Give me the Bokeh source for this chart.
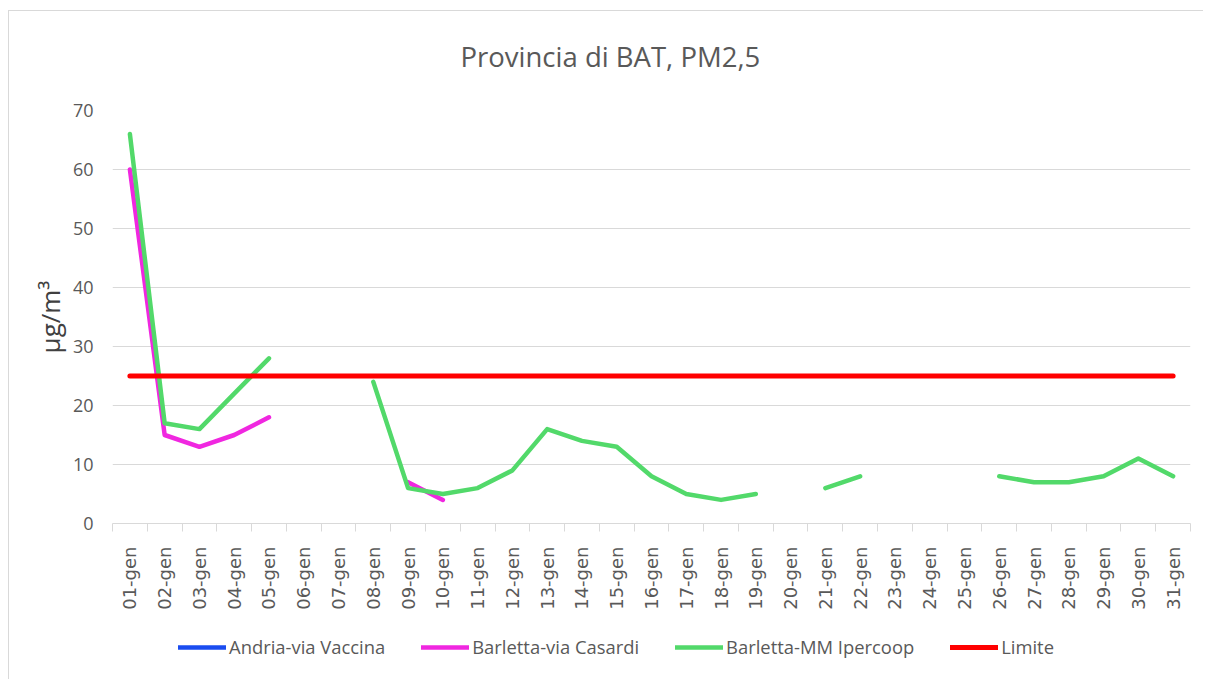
import numpy as np
from bokeh.plotting import figure
from bokeh.layouts import column
from bokeh.models import Range1d, FixedTicker, Legend, LegendItem
from bokeh.embed import file_html
from bokeh.resources import INLINE

nan = np.nan

days = [f"{d:02d}-gen" for d in range(1, 32)]

andria_via_vaccina = [nan] * 31

barletta_via_casardi = [60, 15, 13, 15, 18, nan, nan, nan, 7, 4,
                        nan, nan, nan, nan, nan, nan, nan, nan, nan, nan,
                        nan, nan, nan, nan, nan, nan, nan, nan, nan, nan, nan]

barletta_mm_ipercoop = [66, 17, 16, 22, 28, nan, nan, 24, 6, 5,
                        6, 9, 16, 14, 13, 8, 5, 4, 5, nan,
                        6, 8, nan, nan, nan, 8, 7, 7, 8, 11, 8]

limite = [25] * 31

series_names = ["Andria-via Vaccina", "Barletta-via Casardi", "Barletta-MM Ipercoop", "Limite"]
series_colors = ["#1a4cf0", "#f027e0", "#52d96a", "#ff0000"]
series_widths = [4.5, 4.5, 4.5, 5]
series_values = [andria_via_vaccina, barletta_via_casardi, barletta_mm_ipercoop, limite]

chart_title = "Provincia di BAT, PM2,5"

x = list(range(1, len(days) + 1))

W = 1194


def strip(height):
    f = figure(width=W, height=height, output_backend="svg", toolbar_location=None,
               x_axis_location=None, y_axis_location=None, min_border=0,
               x_range=Range1d(100, 101), y_range=Range1d(-100, -99))
    f.outline_line_color = None
    f.xgrid.grid_line_color = None
    f.ygrid.grid_line_color = None
    return f


# title strip
top = strip(87)
top.title.text = chart_title
top.title.align = "left"
top.title.offset = 348
top.title.text_font = "Open Sans"
top.title.text_font_size = "27.5px"
top.title.text_font_style = "normal"
top.title.text_color = "#595959"
top.title.standoff = 48

# main chart
p = figure(width=W, height=523, output_backend="svg", toolbar_location=None,
           x_range=Range1d(0.5, len(days) + 0.5), y_range=Range1d(0, 70),
           min_border_left=103, min_border_right=13, min_border_top=12, min_border_bottom=98)

p.outline_line_color = None
p.background_fill_color = "white"
p.border_fill_color = "white"

# y axis
p.yaxis.ticker = FixedTicker(ticks=list(range(0, 71, 10)))
p.yaxis.axis_line_color = None
p.yaxis.major_tick_line_color = None
p.yaxis.minor_tick_line_color = None
p.yaxis.major_label_text_font = "Open Sans"
p.yaxis.major_label_text_font_size = "18px"
p.yaxis.major_label_text_color = "#595959"
p.yaxis.major_label_standoff = 13
p.yaxis.axis_label = "µg/m³"
p.yaxis.axis_label_text_font = "Open Sans"
p.yaxis.axis_label_text_font_size = "26px"
p.yaxis.axis_label_text_font_style = "normal"
p.yaxis.axis_label_text_color = "#404040"
p.yaxis.axis_label_standoff = 2

# x axis
p.xaxis.ticker = FixedTicker(ticks=x, minor_ticks=[v - 0.5 for v in x] + [len(x) + 0.5])
p.xaxis.major_label_overrides = {v: d for v, d in zip(x, days)}
p.xaxis.major_label_orientation = np.pi / 2
p.xaxis.axis_line_color = "#d9d9d9"
p.xaxis.major_tick_line_color = None
p.xaxis.major_tick_out = 0
p.xaxis.major_tick_in = 0
p.xaxis.minor_tick_line_color = "#d9d9d9"
p.xaxis.minor_tick_out = 8
p.xaxis.minor_tick_in = 0
p.xaxis.major_label_text_font = "DejaVu Sans"
p.xaxis.major_label_text_font_size = "18px"
p.xaxis.major_label_text_color = "#595959"
p.xaxis.major_label_standoff = 15

p.xgrid.grid_line_color = None
p.ygrid.grid_line_color = "#d9d9d9"
p.ygrid.grid_line_width = 1

for vals, color, w in zip(series_values, series_colors, series_widths):
    p.line(x, vals, line_color=color, line_width=w, line_join="round", line_cap="round")

# legend strip below the chart (same series, ranges chosen so only the legend shows)
lg = strip(58)
lg_renderers = [lg.line(x, vals, line_color=c, line_width=w, line_cap="round")
                for vals, c, w in zip(series_values, series_colors, series_widths)]

legend = Legend(items=[LegendItem(label=n, renderers=[r]) for n, r in zip(series_names, lg_renderers)],
                orientation="horizontal", location=(66, 20))
legend.label_text_font = "Open Sans"
legend.label_text_font_size = "18.4px"
legend.label_text_color = "#595959"
legend.glyph_width = 48
legend.glyph_height = 20
legend.label_standoff = 3
legend.spacing = 36
legend.padding = 0
legend.margin = 0
legend.border_line_color = None
legend.background_fill_alpha = 0
lg.add_layout(legend, "center")

layout = column(top, p, lg, spacing=0,
                styles={"margin-left": "8px", "margin-top": "10px",
                        "border-left": "1px solid #d9d9d9", "border-top": "1px solid #d9d9d9"})

open("out.html", "w").write(file_html(layout, INLINE))
